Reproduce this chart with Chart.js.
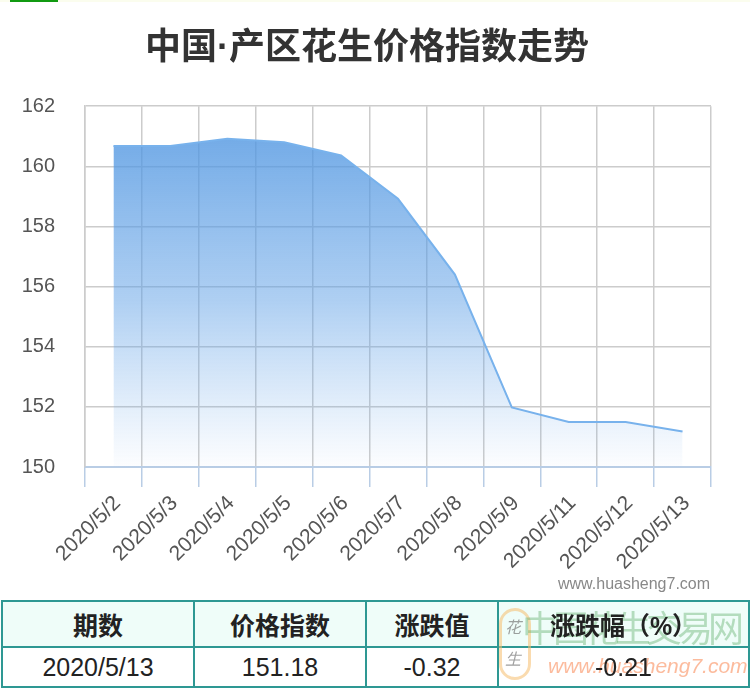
<!DOCTYPE html>
<html>
<head>
<meta charset="utf-8">
<script src="https://cdn.jsdelivr.net/npm/chart.js@4.4.0/dist/chart.umd.min.js"></script>
<style>
    html, body { margin: 0; padding: 0; background: #fff; }
    body { width: 750px; height: 690px; position: relative; overflow: hidden; font-family: "Liberation Sans", "Noto Sans CJK SC", sans-serif; }
    #topStrip { position: absolute; left: 0; top: 0; width: 750px; height: 2px; background: #fbfdee; }
    #topBar { position: absolute; left: 10px; top: 0; width: 48px; height: 2px; background: #119a11; }
    #chartBox { position: absolute; left: 0; top: 0; width: 750px; height: 600px; }
    #site { position: absolute; left: 558px; top: 575px; font-size: 16px; color: #888; }
    #priceTable { position: absolute; left: 1px; top: 600px; width: 749px; border-collapse: collapse; }
    #priceTable td, #priceTable th { border: 2px solid #2e9893; text-align: center; color: #222; font-size: 25px; padding: 0; }
    #priceTable th { background: #effdf9; height: 44px; font-weight: bold; }
    #priceTable td { height: 38px; }
    .wm { position: absolute; white-space: nowrap; pointer-events: none; z-index: 1; }
    .cell-text { position: relative; z-index: 2; }
</style>
</head>
<body>
<div id="topStrip"></div>
<div id="topBar"></div>
<div id="chartBox"><canvas id="trendChart" width="750" height="600"></canvas></div>
<div id="site">www.huasheng7.com</div>
<table id="priceTable">
    <tr>
        <th style="width:190px">期数</th>
        <th style="width:170px">价格指数</th>
        <th style="width:130px">涨跌值</th>
        <th><span class="cell-text">涨跌幅（%）</span></th>
    </tr>
    <tr>
        <td>2020/5/13</td>
        <td>151.18</td>
        <td>-0.32</td>
        <td><span class="cell-text">-0.21</span></td>
    </tr>
</table>
<!-- site logo watermark over the last column -->
<div class="wm" style="left:499px;top:608px;width:26px;height:66px;border:3px solid rgba(245,190,110,0.55);border-radius:16px;"></div>
<div class="wm" style="left:505px;top:614px;font-size:16px;color:rgba(120,120,120,0.7);font-style:italic;">花</div>
<div class="wm" style="left:505px;top:646px;font-size:16px;color:rgba(120,120,120,0.7);font-style:italic;">生</div>
<div class="wm" style="left:522px;top:600px;font-size:36px;letter-spacing:-5px;color:rgba(90,170,100,0.4);">中国花生交易网</div>
<div class="wm" style="left:548px;top:654px;font-size:21px;font-style:italic;color:rgba(250,120,60,0.5);">www.huasheng7.com</div>

<script>
const categories = ["2020/5/2", "2020/5/3", "2020/5/4", "2020/5/5", "2020/5/6", "2020/5/7",
    "2020/5/8", "2020/5/9", "2020/5/11", "2020/5/12", "2020/5/13"];
const indexValues = [160.68, 160.68, 160.92, 160.80, 160.36, 158.92, 156.40, 151.98, 151.50, 151.50, 151.18];
const yTicks = [150, 152, 154, 156, 158, 160, 162];

document.addEventListener("DOMContentLoaded", function () {
    const ctx = document.getElementById("trendChart");

    function fillGradient(context) {
        const area = context.chart.chartArea;
        if (!area) return 'rgba(80,150,225,0.8)';
        const g = context.chart.ctx.createLinearGradient(0, area.top + 30, 0, area.bottom);
        g.addColorStop(0, 'rgba(80,150,225,0.8)');
        g.addColorStop(0.5, 'rgba(95,160,230,0.5)');
        g.addColorStop(1, 'rgba(120,175,235,0.02)');
        return g;
    }

    new Chart(ctx, {
        type: 'line',
        data: {
            labels: categories,
            datasets: [{
                label: '价格指数',
                data: indexValues,
                borderColor: '#78b2ec',
                borderWidth: 2,
                backgroundColor: fillGradient,
                fill: 'start',
                tension: 0,
                pointRadius: 0
            }]
        },
        options: {
            responsive: false,
            animation: false,
            // left padding keeps the title centred like the original
            layout: { padding: { top: 0, right: 39, left: 23, bottom: 0 } },
            plugins: {
                legend: { display: false },
                tooltip: { enabled: false },
                title: {
                    display: true,
                    text: '中国·产区花生价格指数走势',
                    color: '#333',
                    font: { family: '"Liberation Sans", "Noto Sans CJK SC", sans-serif', size: 36, weight: 'bold' },
                    padding: { top: 27, bottom: 36 }
                }
            },
            scales: {
                x: {
                    offset: true,
                    grid: { offset: true, color: '#cccccc', lineWidth: 1.5, tickColor: '#b9cde5', tickLength: 20 },
                    border: { color: '#b9cde5', width: 2 },
                    ticks: {
                        color: '#555',
                        font: { family: '"Liberation Sans", sans-serif', size: 21 },
                        maxRotation: 45,
                        minRotation: 45,
                        autoSkip: false,
                        labelOffset: 4,
                        padding: 4
                    },
                    afterFit: function (scale) { scale.height = 133; }
                },
                y: {
                    min: 150,
                    max: 162,
                    afterBuildTicks: function (scale) { scale.ticks = yTicks.map(v => ({ value: v })); },
                    grid: { color: '#cccccc', lineWidth: 1.5, drawTicks: false },
                    border: { color: '#cccccc', width: 1.5 },
                    ticks: {
                        color: '#555',
                        font: { family: '"Liberation Sans", sans-serif', size: 20 },
                        padding: 30
                    },
                    afterFit: function (scale) { scale.width = 62; }
                }
            }
        }
    });
});
</script>
</body>
</html>
